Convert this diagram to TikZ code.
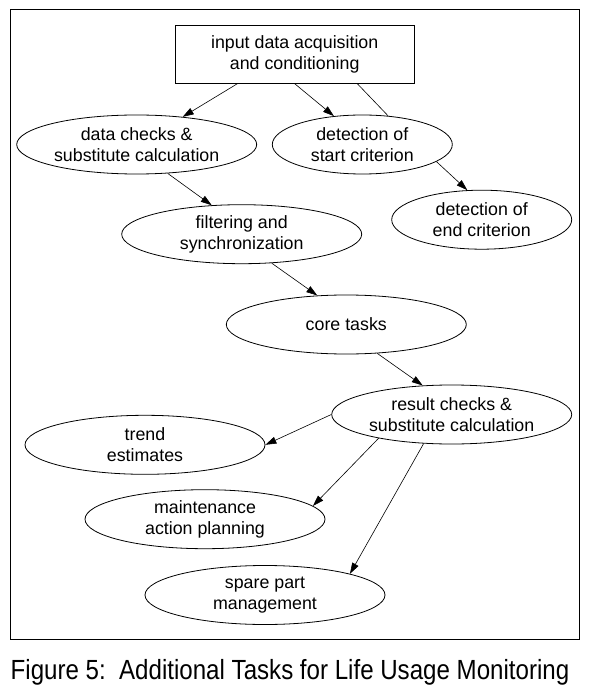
\documentclass[tikz,border=0pt]{standalone}
\usepackage{fontspec}
\setmainfont{Liberation Sans}
\usetikzlibrary{shapes.geometric,arrows.meta}
\tikzset{
  lbl/.style={font=\fontsize{17.8}{20.6}\selectfont, align=center, inner sep=0pt},
  ell/.style={lbl, draw, line width=0.8pt, ellipse, minimum width=240pt, minimum height=59pt},
  smallell/.style={ell, minimum width=180pt},
  topbox/.style={lbl, draw, line width=0.8pt, rectangle, minimum width=239.3pt, minimum height=57.6pt},
  conn/.style={line width=0.6pt, -{Triangle[length=11pt,width=7pt]}},
  plainconn/.style={line width=0.6pt},
}
\begin{document}
\begin{tikzpicture}[x=1pt,y=-1pt]
\path[use as bounding box, fill=white] (0,0) rectangle (590,700);
\draw[line width=1pt] (10,10) rectangle (579.3,639.3);

\node[topbox] (inp) at (294.7,54.5) {input data acquisition\\and conditioning};
\node[ell] (dc) at (136.7,144.5) {data checks \&\\substitute calculation};
\node[smallell] (st) at (362.3,144.5) {detection of\\start criterion};
\node[ell] (fs) at (241.7,234.2) {filtering and\\synchronization};
\node[smallell] (en) at (481.7,219.7) {detection of\\end criterion};
\node[ell] (ct) at (346.3,324.5) {core tasks};
\node[ell] (rc) at (451.7,414.5) {result checks \&\\substitute calculation};
\node[ell] (tr) at (145,444.8) {trend\\estimates};
\node[ell] (ma) at (205,519.2) {maintenance\\action planning};
\node[ell] (sp) at (265,595) {spare part\\management};

\draw[conn] (inp.-153.9) -- (dc.31);
\draw[conn] (inp.south) -- (st.135);
\draw[plainconn] (inp.-25.5) -- (st.48);
\draw[conn] (dc.-43) -- (fs.136);
\draw[conn] (st.-13) -- (en.116);
\draw[conn] (fs.-44) -- (ct.135);
\draw[conn] (ct.-43.6) -- (rc.135.5);
\draw[conn] (rc.west) -- (tr.east);
\draw[conn] (rc.-162.3) -- (ma.7.6);
\draw[conn] (rc.-134.5) -- (sp.14);

\node[anchor=base west, inner sep=0pt, font=\fontsize{24.1}{28}\selectfont] (cap) at (10.5,679.3)
  {\scalebox{1}[1.15]{Figure 5:\ \ Additional Tasks for Life Usage Monitoring}};
\end{tikzpicture}
\end{document}
